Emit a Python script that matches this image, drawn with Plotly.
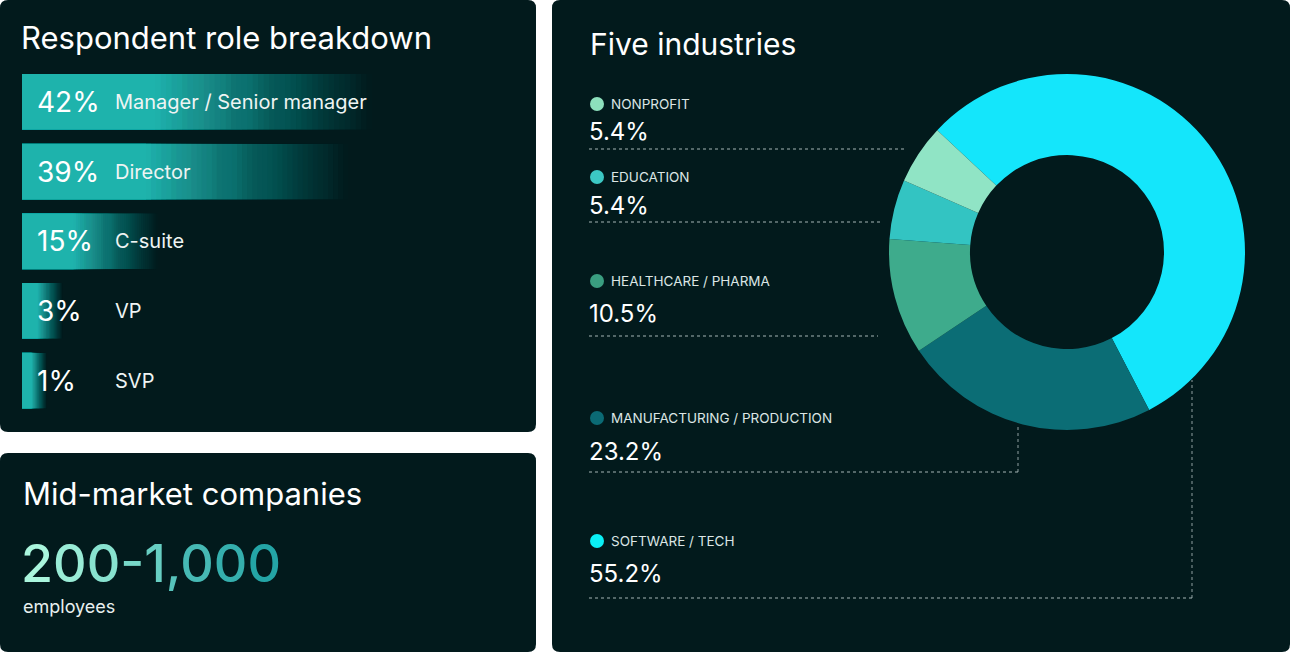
import plotly.graph_objects as go

W, H = 1290, 652

# ---- data ----
roles = ["Manager / Senior manager", "Director", "C-suite", "VP", "SVP"]
role_pct = [42, 39, 15, 3, 1]

industries = ["SOFTWARE / TECH", "MANUFACTURING / PRODUCTION", "HEALTHCARE / PHARMA", "EDUCATION", "NONPROFIT"]
industry_pct = [55.2, 23.2, 10.5, 5.4, 5.4]
industry_colors = ["#14e6fb", "#0b6d75", "#3eab8c", "#33c4c2", "#90e4c5"]
dot_colors = ["#0af0f5", "#0b6a74", "#3a9e80", "#3cc8c4", "#8de0bc"]

company_range = "200-1,000"

BG = "#021a1c"
TEAL = (40, 187, 182)
FONT = "Inter"


def px(x):
    return x / W


def py(y):
    return 1 - y / H


def rounded_rect(x0, y0, x1, y1, r=8):
    # pixel box -> paper path with rounded corners
    X = lambda v: f"{px(v):.5f}"
    Y = lambda v: f"{py(v):.5f}"
    return (f"M {X(x0 + r)},{Y(y0)} L {X(x1 - r)},{Y(y0)} Q {X(x1)},{Y(y0)} {X(x1)},{Y(y0 + r)} "
            f"L {X(x1)},{Y(y1 - r)} Q {X(x1)},{Y(y1)} {X(x1 - r)},{Y(y1)} "
            f"L {X(x0 + r)},{Y(y1)} Q {X(x0)},{Y(y1)} {X(x0)},{Y(y1 - r)} "
            f"L {X(x0)},{Y(y0 + r)} Q {X(x0)},{Y(y0)} {X(x0 + r)},{Y(y0)} Z")


fig = go.Figure()

# ---- role bars: overlapping translucent layers that fade out to the right ----
base0 = -2.15
solid = 0.38
nlay = 40
# solid part
fig.add_trace(go.Bar(
    y=roles, x=[(v - base0) * solid for v in role_pct], base=base0,
    orientation="h", marker=dict(color=f"rgb{TEAL}", line=dict(width=0)),
    hoverinfo="skip", showlegend=False,
))
# fade layers: layer j ends at solid + (1-solid)*j/nlay, composite opacity ~ linear
targets = [1 - (j - 0.5) / nlay for j in range(1, nlay + 1)] + [0.0]
for j in range(1, nlay + 1):
    a = 1 - (1 - targets[j - 1]) / (1 - targets[j])
    end = solid + (1 - solid) * j / nlay
    fig.add_trace(go.Bar(
        y=roles, x=[(v - base0) * end for v in role_pct], base=base0,
        orientation="h",
        marker=dict(color=f"rgba({TEAL[0]},{TEAL[1]},{TEAL[2]},{a:.4f})", line=dict(width=0)),
        hoverinfo="skip", showlegend=False,
    ))

# ---- industries donut ----
fig.add_trace(go.Pie(
    labels=industries,
    values=industry_pct,
    hole=0.545,
    sort=False,
    direction="clockwise",
    rotation=-46.8,
    marker=dict(colors=industry_colors, line=dict(width=0)),
    textinfo="none",
    hoverinfo="label+percent",
    showlegend=False,
    domain=dict(x=[px(889), px(1245)], y=[py(430), py(74)]),
))

shapes = [
    dict(type="path", path=rounded_rect(0, 0, 536, 432), xref="paper", yref="paper",
         fillcolor=BG, line=dict(width=0), layer="below"),
    dict(type="path", path=rounded_rect(0, 453, 536, 652), xref="paper", yref="paper",
         fillcolor=BG, line=dict(width=0), layer="below"),
    dict(type="path", path=rounded_rect(552, 0, 1290, 652), xref="paper", yref="paper",
         fillcolor=BG, line=dict(width=0), layer="below"),
]

annotations = [
    dict(text="Respondent role breakdown", x=px(19), y=py(37), xanchor="left", yanchor="middle",
         font=dict(size=31, color="white", family=FONT)),
    dict(text="Mid-market companies", x=px(21), y=py(493), xanchor="left", yanchor="middle",
         font=dict(size=31, color="white", family=FONT)),
    dict(text="employees", x=px(21), y=py(606), xanchor="left", yanchor="middle",
         font=dict(size=18, color="#e8f0ef", family=FONT)),
    dict(text="Five industries", x=px(588), y=py(44), xanchor="left", yanchor="middle",
         font=dict(size=30, color="white", family=FONT)),
]

# gradient-coloured headline number, one span per character
c0, c1 = (170, 246, 221), (36, 165, 166)
chars = list(company_range)
spans = []
for i, ch in enumerate(chars):
    t = i / (len(chars) - 1)
    col = tuple(round(c0[k] + (c1[k] - c0[k]) * t) for k in range(3))
    spans.append(f"<span style='color:rgb{col}'>{ch}</span>")
annotations.append(dict(text="".join(spans), x=px(19), y=py(563), xanchor="left", yanchor="middle",
                        font=dict(size=52, family=FONT, weight=500)))

for role, pct in zip(roles, role_pct):
    annotations.append(dict(text=f"{pct}%", x=px(35), y=role, yref="y", xanchor="left", yanchor="middle",
                            font=dict(size=28, color="white", family=FONT)))
    annotations.append(dict(text=role, x=px(113), y=role, yref="y", xanchor="left", yanchor="middle",
                            font=dict(size=20, color="#eef4f3", family=FONT)))

# industry labels, values and dotted leader lines (pixel rows: label, value, rule)
rows_px = {"NONPROFIT": (104, 132, 149), "EDUCATION": (177, 206, 222),
           "HEALTHCARE / PHARMA": (281, 313, 336),
           "MANUFACTURING / PRODUCTION": (418, 451, 472), "SOFTWARE / TECH": (541, 573, 598)}
line_ends = {"NONPROFIT": (905, None), "EDUCATION": (880, None), "HEALTHCARE / PHARMA": (878, None),
             "MANUFACTURING / PRODUCTION": (1018, 424), "SOFTWARE / TECH": (1192, 380)}
dotted = "rgba(200,215,214,0.55)"
for name, pct, dc in zip(industries, industry_pct, dot_colors):
    ly, vy, line_y = rows_px[name]
    annotations.append(dict(text=name, x=px(609), y=py(ly), xanchor="left", yanchor="middle",
                            font=dict(size=13.5, color="#dce6e5", family=FONT)))
    annotations.append(dict(text=f"{pct}%", x=px(587), y=py(vy), xanchor="left", yanchor="middle",
                            font=dict(size=24, color="white", family=FONT)))
    shapes.append(dict(type="circle", xref="paper", yref="paper",
                       x0=px(590), x1=px(604), y0=py(ly - 7), y1=py(ly + 7),
                       fillcolor=dc, line=dict(width=0)))
    xe, ye = line_ends[name]
    shapes.append(dict(type="line", xref="paper", yref="paper", x0=px(589), x1=px(xe),
                       y0=py(line_y), y1=py(line_y), line=dict(color=dotted, width=1.3, dash="dot"),
                       layer="below"))
    if ye is not None:
        shapes.append(dict(type="line", xref="paper", yref="paper", x0=px(xe), x1=px(xe),
                           y0=py(line_y), y1=py(ye), line=dict(color=dotted, width=1.3, dash="dot"),
                           layer="below"))

fig.update_layout(
    width=W, height=H,
    margin=dict(l=0, r=0, t=0, b=0),
    paper_bgcolor="white",
    plot_bgcolor="rgba(0,0,0,0)",
    barmode="overlay",
    bargap=0.2,
    xaxis=dict(domain=[px(22), px(420)], range=[base0, base0 + 398 / 7.93],
               visible=False, fixedrange=True),
    yaxis=dict(domain=[py(415.5), py(67)], autorange="reversed", visible=False, fixedrange=True),
    shapes=shapes,
    annotations=[dict(a, showarrow=False, **({} if "xref" in a else {"xref": "paper"}),
                      **({} if "yref" in a else {"yref": "paper"})) for a in annotations],
    font=dict(family=FONT),
)

fig.write_html("out.html", config={"displayModeBar": False},
               post_script="document.body.style.margin='0';")
